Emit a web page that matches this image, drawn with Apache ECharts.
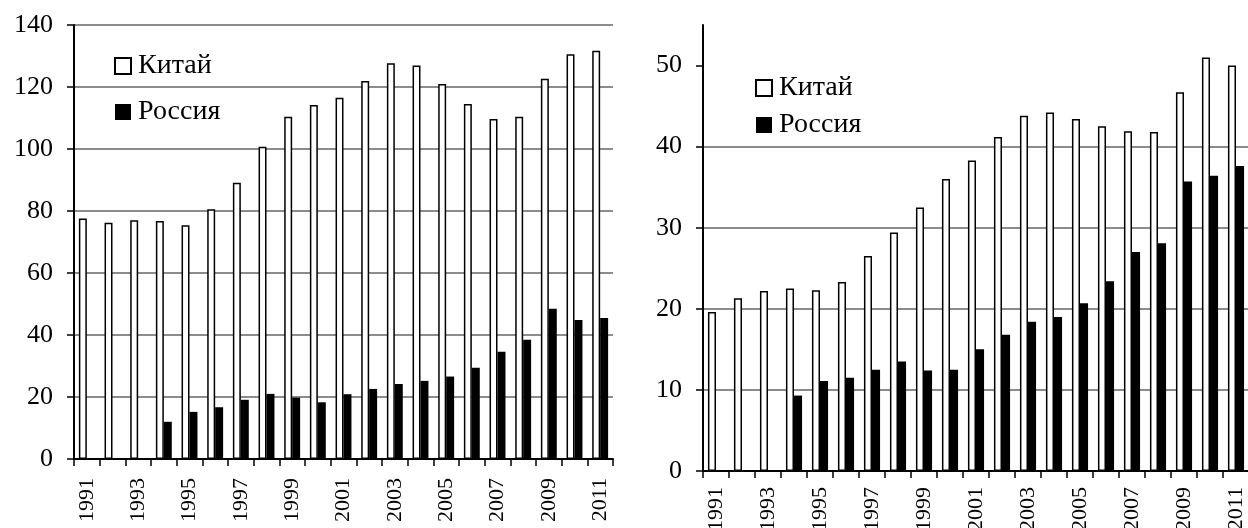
<!DOCTYPE html>
<html>
<head>
<meta charset="utf-8">
<script src="https://cdn.jsdelivr.net/npm/echarts@6/dist/echarts.min.js"></script>
<style>
html,body{margin:0;padding:0;background:#fff;}
#c{width:1248px;height:528px;}
</style>
</head>
<body>
<div id="c"></div>
<script>
const years = ['1991','1992','1993','1994','1995','1996','1997','1998','1999','2000','2001','2002','2003','2004','2005','2006','2007','2008','2009','2010','2011'];
const chinaLeft  = [77.6,76.2,77.0,76.8,75.4,80.6,89.1,100.7,110.4,114.2,116.5,121.9,127.7,126.9,121.0,114.5,109.7,110.4,122.7,130.6,131.7];
const russiaLeft = [null,null,null,12.0,15.2,16.7,19.1,21.0,19.8,18.3,20.9,22.6,24.2,25.2,26.6,29.4,34.6,38.5,48.5,44.8,45.5];
const chinaRight  = [19.6,21.3,22.2,22.5,22.3,23.3,26.5,29.4,32.5,36.0,38.3,41.2,43.8,44.2,43.4,42.5,41.9,41.8,46.7,51.0,50.0];
const russiaRight = [null,null,null,9.3,11.1,11.5,12.5,13.5,12.4,12.5,15.0,16.8,18.4,19.0,20.7,23.4,27.0,28.1,35.7,36.4,37.6];
const leftTicks = [0,20,40,60,80,100,120,140];
const rightTicks = [0,10,20,30,40,50];
const names = ['Китай','Россия'];

const FONT = '"Liberation Serif","Times New Roman",serif';
const chart = echarts.init(document.getElementById('c'), null, {renderer:'canvas'});

function xAxis(gridIndex, margin){
  return {
    type:'category', gridIndex, data: years,
    axisLine:{lineStyle:{color:'#000',width:2}},
    axisTick:{show:true, length:7, interval:0, lineStyle:{color:'#000',width:1.5}},
    axisLabel:{interval:1, rotate:90, margin, fontFamily:FONT, fontSize:22, color:'#000'},
    splitLine:{show:false}
  };
}
function yAxis(gridIndex, min, max, interval, ticks){
  return {
    type:'value', gridIndex, min, max, interval,
    axisLine:{show:true, lineStyle:{color:'#000',width:2}},
    axisTick:{show:true, length:7, customValues: ticks, lineStyle:{color:'#000',width:1.5}},
    axisLabel:{margin:21, fontFamily:FONT, fontSize:26, color:'#000', customValues: ticks},
    splitLine:{show:true, showMaxLine: max === ticks[ticks.length-1], lineStyle:{color:'#8c8c8c', width:1.8}}
  };
}
const chinaStyle = {color:'#fff', borderColor:'#000', borderWidth:1.5};
const russiaStyle = {color:'#000', borderColor:'#000', borderWidth:0};

function legend(left, top, gap){
  return {
    orient:'vertical', left, top, itemGap:gap, itemWidth:16, itemHeight:16,
    icon:'rect', selectedMode:false, data:names,
    textStyle:{fontFamily:FONT, fontSize:28, color:'#000', lineHeight:30, padding:[0,0,0,2]}
  };
}

chart.setOption({
  animation:false,
  backgroundColor:'#fff',
  grid:[
    {left:74, top:25, width:539, bottom:69, containLabel:false, outerBoundsMode:'none'},
    {left:703, top:25, width:546, bottom:57, containLabel:false, outerBoundsMode:'none'}
  ],
  legend:[legend(109, 46, 16), legend(750, 68, 7)],
  xAxis:[xAxis(0, 19), xAxis(1, 16)],
  yAxis:[yAxis(0, 0, 140, 20, leftTicks), yAxis(1, 0, 55, 10, rightTicks)],
  series:[
    {name:names[0], type:'bar', xAxisIndex:0, yAxisIndex:0, data:chinaLeft, itemStyle:chinaStyle, barGap:'0%', barCategoryGap:'38%'},
    {name:names[1], type:'bar', xAxisIndex:0, yAxisIndex:0, data:russiaLeft, itemStyle:russiaStyle, barGap:'0%', barCategoryGap:'38%'},
    {name:names[0], type:'bar', xAxisIndex:1, yAxisIndex:1, data:chinaRight, itemStyle:chinaStyle, barGap:'0%', barCategoryGap:'38%'},
    {name:names[1], type:'bar', xAxisIndex:1, yAxisIndex:1, data:russiaRight, itemStyle:russiaStyle, barGap:'0%', barCategoryGap:'38%'}
  ]
});
</script>
</body>
</html>
